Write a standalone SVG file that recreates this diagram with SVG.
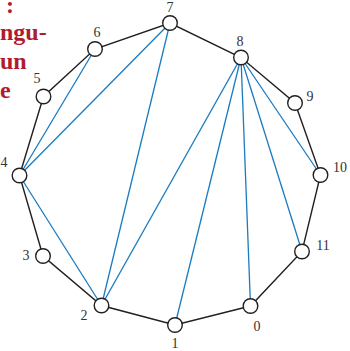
<svg xmlns="http://www.w3.org/2000/svg" width="350" height="351" viewBox="0 0 350 351">
<style>
.edge{stroke:#231f20;stroke-width:1.4;fill:none}
.diag{stroke:#1a7bbf;stroke-width:1.3;fill:none}
.v{fill:#fff;stroke:#231f20;stroke-width:1.4}
.lbl{font-family:"Liberation Serif",serif;font-size:14px;fill:#333;text-anchor:middle}
.red{font-family:"Liberation Serif",serif;font-size:24px;font-weight:bold;fill:#b01c2e}
</style>
<rect width="350" height="351" fill="#fff"/>
<g id="caption">
<text class="red" x="6" y="13">:</text>
<text class="red" x="0" y="40">ngu-</text>
<text class="red" x="0" y="69">un</text>
<text class="red" x="0" y="98">e</text>
</g>
<g id="connectors">
<polygon class="edge" points="250.5,306 175,325 101.5,305.5 43,256 19.5,175.5 43.5,96.5 95,49 170,23 241,57.5 295,103 320.5,175 302,251.5"/>
<line class="diag" x1="19.5" y1="175.5" x2="95" y2="49"/>
<line class="diag" x1="19.5" y1="175.5" x2="170" y2="23"/>
<line class="diag" x1="19.5" y1="175.5" x2="101.5" y2="305.5"/>
<line class="diag" x1="101.5" y1="305.5" x2="170" y2="23"/>
<line class="diag" x1="101.5" y1="305.5" x2="241" y2="57.5"/>
<line class="diag" x1="175" y1="325" x2="241" y2="57.5"/>
<line class="diag" x1="250.5" y1="306" x2="241" y2="57.5"/>
<line class="diag" x1="302" y1="251.5" x2="241" y2="57.5"/>
<line class="diag" x1="320.5" y1="175" x2="241" y2="57.5"/>
</g>
<g id="n0"><circle class="v" cx="250.5" cy="306" r="7.3"/><text class="lbl" x="257" y="331">0</text></g>
<g id="n1"><circle class="v" cx="175" cy="325" r="7.3"/><text class="lbl" x="175" y="348">1</text></g>
<g id="n2"><circle class="v" cx="101.5" cy="305.5" r="7.3"/><text class="lbl" x="84" y="320">2</text></g>
<g id="n3"><circle class="v" cx="43" cy="256" r="7.3"/><text class="lbl" x="26" y="260">3</text></g>
<g id="n4"><circle class="v" cx="19.5" cy="175.5" r="7.3"/><text class="lbl" x="4" y="167">4</text></g>
<g id="n5"><circle class="v" cx="43.5" cy="96.5" r="7.3"/><text class="lbl" x="37" y="83">5</text></g>
<g id="n6"><circle class="v" cx="95" cy="49" r="7.3"/><text class="lbl" x="97" y="37">6</text></g>
<g id="n7"><circle class="v" cx="170" cy="23" r="7.3"/><text class="lbl" x="170" y="12">7</text></g>
<g id="n8"><circle class="v" cx="241" cy="57.5" r="7.3"/><text class="lbl" x="240" y="46">8</text></g>
<g id="n9"><circle class="v" cx="295" cy="103" r="7.3"/><text class="lbl" x="310" y="101">9</text></g>
<g id="n10"><circle class="v" cx="320.5" cy="175" r="7.3"/><text class="lbl" x="340" y="172">10</text></g>
<g id="n11"><circle class="v" cx="302" cy="251.5" r="7.3"/><text class="lbl" x="323" y="250">11</text></g>
</svg>
